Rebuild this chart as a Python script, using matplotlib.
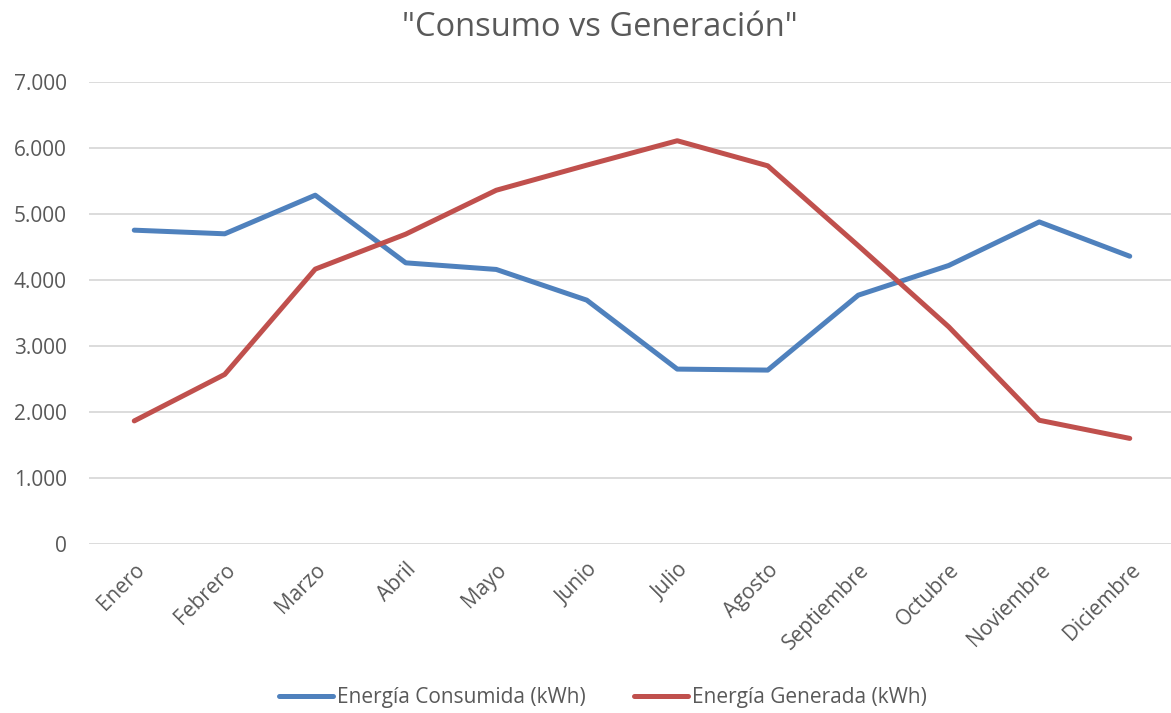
import matplotlib
matplotlib.use("Agg")
import matplotlib.pyplot as plt
from matplotlib.ticker import FuncFormatter

meses = ["Enero", "Febrero", "Marzo", "Abril", "Mayo", "Junio", "Julio",
         "Agosto", "Septiembre", "Octubre", "Noviembre", "Diciembre"]
consumida = [4755, 4700, 5285, 4260, 4160, 3695, 2650, 2635, 3770, 4220, 4880, 4360]
generada = [1865, 2570, 4165, 4695, 5360, 5740, 6110, 5730, 4520, 3290, 1875, 1600]
yticks = [0, 1000, 2000, 3000, 4000, 5000, 6000, 7000]
titulo = '"Consumo vs Generación"'
serie1 = "Energía Consumida (kWh)"
serie2 = "Energía Generada (kWh)"

plt.rcParams['font.family'] = ['Open Sans', 'DejaVu Sans']
txt = "#595959"

fig = plt.figure(figsize=(11.71, 7.13), dpi=100)
ax = fig.add_axes([89/1171, 169/713, (1175-89)/1171, 462/713])

x = list(range(len(meses)))
ax.plot(x, consumida, color="#4F81BD", lw=3.6, solid_capstyle="round",
        solid_joinstyle="round", label=serie1, zorder=3)
ax.plot(x, generada, color="#C0504D", lw=3.6, solid_capstyle="round",
        solid_joinstyle="round", label=serie2, zorder=3)

ax.set_xlim(-0.5, len(meses) - 0.5)
ax.set_ylim(0, 7000)
ax.set_yticks(yticks)
ax.yaxis.set_major_formatter(FuncFormatter(lambda v, p: f"{int(v):,}".replace(",", ".")))
ax.grid(axis="y", color="#D9D9D9", lw=1.3)
ax.set_axisbelow(True)
for s in ax.spines.values():
    s.set_visible(False)
ax.tick_params(axis="both", length=0, colors=txt, labelsize=15)
ax.tick_params(axis="y", pad=16)
ax.set_xticks(x)
ax.set_xticklabels(meses, rotation=45, ha="right", va="top", rotation_mode="anchor")
ax.tick_params(axis="x", pad=11)

fig.text(600/1171, 1 - 27/713, titulo, ha="center", va="center", fontsize=23.5, color=txt)

leg = fig.legend(loc="center", bbox_to_anchor=(603/1171, 1 - 698/713), ncol=2,
                 frameon=False, fontsize=15, handlelength=2.6, handletextpad=0.2,
                 columnspacing=2.3)
for t in leg.get_texts():
    t.set_color(txt)

fig.savefig("out.png", dpi=100)
